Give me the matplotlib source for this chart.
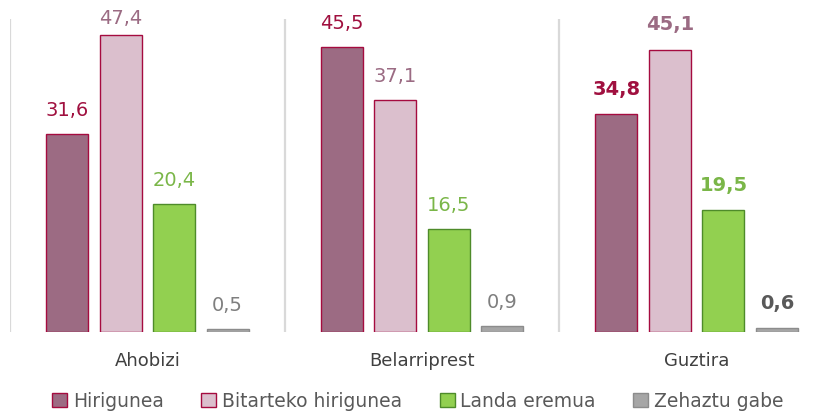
import matplotlib
matplotlib.use("Agg")
import matplotlib.pyplot as plt
import numpy as np
from matplotlib.patches import Patch

groups = ["Ahobizi", "Belarriprest", "Guztira"]
series = ["Hirigunea", "Bitarteko hirigunea", "Landa eremua", "Zehaztu gabe"]
hirigunea = [31.6, 45.5, 34.8]
bitarteko = [47.4, 37.1, 45.1]
landa = [20.4, 16.5, 19.5]
zehaztu = [0.5, 0.9, 0.6]
values = [hirigunea, bitarteko, landa, zehaztu]

fills = ["#9C6B83", "#DBBFCD", "#92D050", "#A6A6A6"]
edges = ["#A50B3F", "#A50B3F", "#4E8B2A", "#8C8C8C"]
label_colors = ["#A0103F", "#9B6B83", "#7AB648", "#7F7F7F"]
label_colors_bold = ["#A0103F", "#9B6B83", "#7AB648", "#595959"]

fig = plt.figure(figsize=(8.24, 4.11), dpi=100)
W, H = 824, 411
ax = fig.add_axes([10 / W, 1 - 332 / H, 824 / W, 313 / H])

x = np.arange(len(groups))
width = 0.153
step = 0.195
offsets = (np.arange(4) - 1.5) * step
ymax = 50
px_per_unit = 313 / ymax
label_cap = 48.5  # labels pushed down to stay inside the chart area

for i, vals in enumerate(values):
    bars = ax.bar(x + offsets[i], vals, width, color=fills[i], edgecolor=edges[i], linewidth=1.0, zorder=3)
    for j, (b, v) in enumerate(zip(bars, vals)):
        bold = (j == 2)
        off_pt = min(10 if not bold else 11, (label_cap - v) * px_per_unit * 0.72)
        ax.annotate(f"{v:.1f}".replace(".", ","), (b.get_x() + b.get_width() / 2, v),
                    xytext=(0, off_pt), textcoords="offset points", ha="center", va="bottom",
                    fontsize=14, fontweight="bold" if bold else "normal",
                    color=label_colors_bold[i] if bold else label_colors[i])

for sep in [-0.5, 0.5, 1.5, 2.5]:
    ax.axvline(sep, color="#D9D9D9", lw=1.6, zorder=1)

ax.set_xlim(-0.5, 2.5)
ax.set_ylim(0, ymax)
ax.axis("off")

for j, g in enumerate(groups):
    ax.annotate(g, (x[j], 0), xytext=(0, -21), textcoords="offset points",
                ha="center", va="center", fontsize=13, color="#404040")

handles = [Patch(facecolor=fills[i], edgecolor=edges[i], label=series[i]) for i in range(4)]
fig.legend(handles=handles, loc="center", bbox_to_anchor=(0.507, 1 - 401 / H), ncol=4,
           frameon=False, fontsize=13.5, handlelength=0.8, handleheight=0.8,
           handletextpad=0.3, columnspacing=2.0, labelcolor="#595959")

fig.savefig("out.png", dpi=100)
